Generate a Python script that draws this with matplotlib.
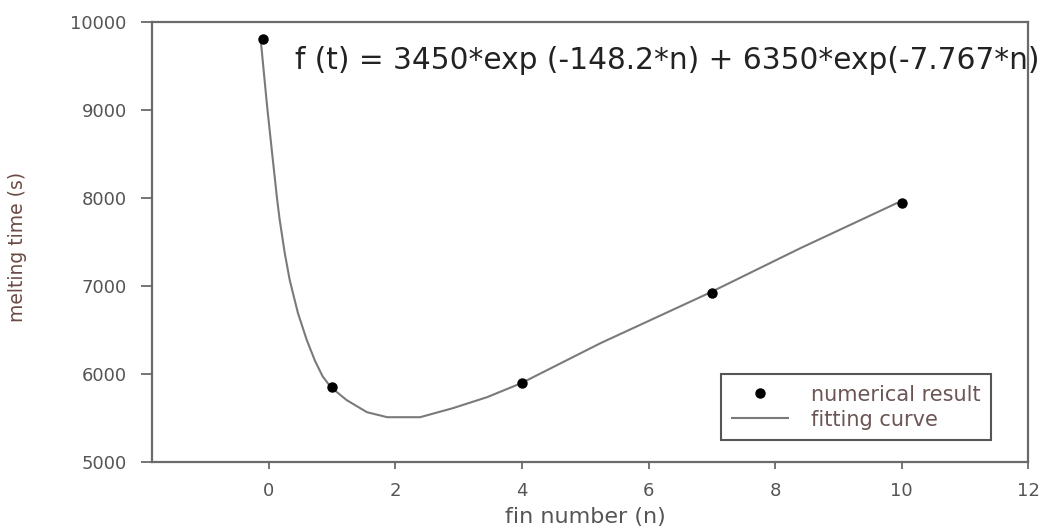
import matplotlib
matplotlib.use("Agg")
from matplotlib import pyplot as plt

plt.rcParams['font.family'] = ['DejaVu Sans']

# Valeurs
fin_num = [-0.1, 1, 4, 7, 10]
melt_num = [9807, 5852, 5898, 6920, 7945]

# Courbe d'ajustement
fit_n = [-0.13, -0.11, -0.03, 0.05, 0.13, 0.17, 0.25, 0.33, 0.46, 0.60,
         0.73, 0.85, 0.98, 1.23, 1.55, 1.87, 2.39, 2.91, 3.45, 3.99,
         5.24, 6.95, 8.40, 9.92]
fit_t = [9807, 9660, 9060, 8520, 7990, 7760, 7380, 7068, 6693, 6386,
         6150, 5975, 5852, 5705, 5568, 5511, 5511, 5614, 5739, 5898,
         6352, 6920, 7432, 7943]

x_ticks = [0, 2, 4, 6, 8, 10, 12]
y_ticks = [5000, 6000, 7000, 8000, 9000, 10000]

fig = plt.figure(figsize=(10.47, 5.30), dpi=100)
ax = fig.add_axes([0.145, 0.128, 0.837, 0.830])

ax.plot(fit_n, fit_t, color="#7a7a7a", lw=1.5, label="fitting curve")
ax.plot(fin_num, melt_num, "o", color="black", ms=6.5, ls="none",
        label="numerical result")

ax.set_xlim(-1.85, 12)
ax.set_ylim(5000, 10000)
ax.set_xticks(x_ticks)
ax.set_yticks(y_ticks)

for s in ax.spines.values():
    s.set_color("#6a6a6a")
    s.set_linewidth(1.6)

ax.tick_params(axis="y", direction="out", length=8, width=1.3, color="#6a6a6a",
               labelsize=13, labelcolor="#555555", pad=10)
ax.tick_params(axis="x", direction="out", length=5, width=1.3, color="#6a6a6a",
               labelsize=13, labelcolor="#555555", pad=9)

ax.set_xlabel("fin number (n)", fontsize=16, color="#555555", va="top")
ax.xaxis.set_label_coords(0.495, -0.102)
ax.set_ylabel("melting time (s)", fontsize=13.5, color="#6b4a44")
ax.yaxis.set_label_coords(-0.142, 0.49)

# Équation de l'ajustement
ax.text(0.163, 0.914, "f (t) = 3450*exp (-148.2*n) + 6350*exp(-7.767*n)",
        transform=ax.transAxes, fontsize=21.3, color="#222222",
        ha="left", va="center", clip_on=False)

handles, labels = ax.get_legend_handles_labels()
leg = ax.legend(handles[::-1], labels[::-1], loc="lower left",
                bbox_to_anchor=(0.65, 0.05), borderaxespad=0,
                fancybox=False, framealpha=1, edgecolor="#555555",
                fontsize=15, labelcolor="#6b5555", handlelength=2.7,
                handletextpad=1.1, borderpad=0.5, labelspacing=0.25)
leg.get_frame().set_linewidth(1.5)

fig.savefig("out.png", dpi=100)
